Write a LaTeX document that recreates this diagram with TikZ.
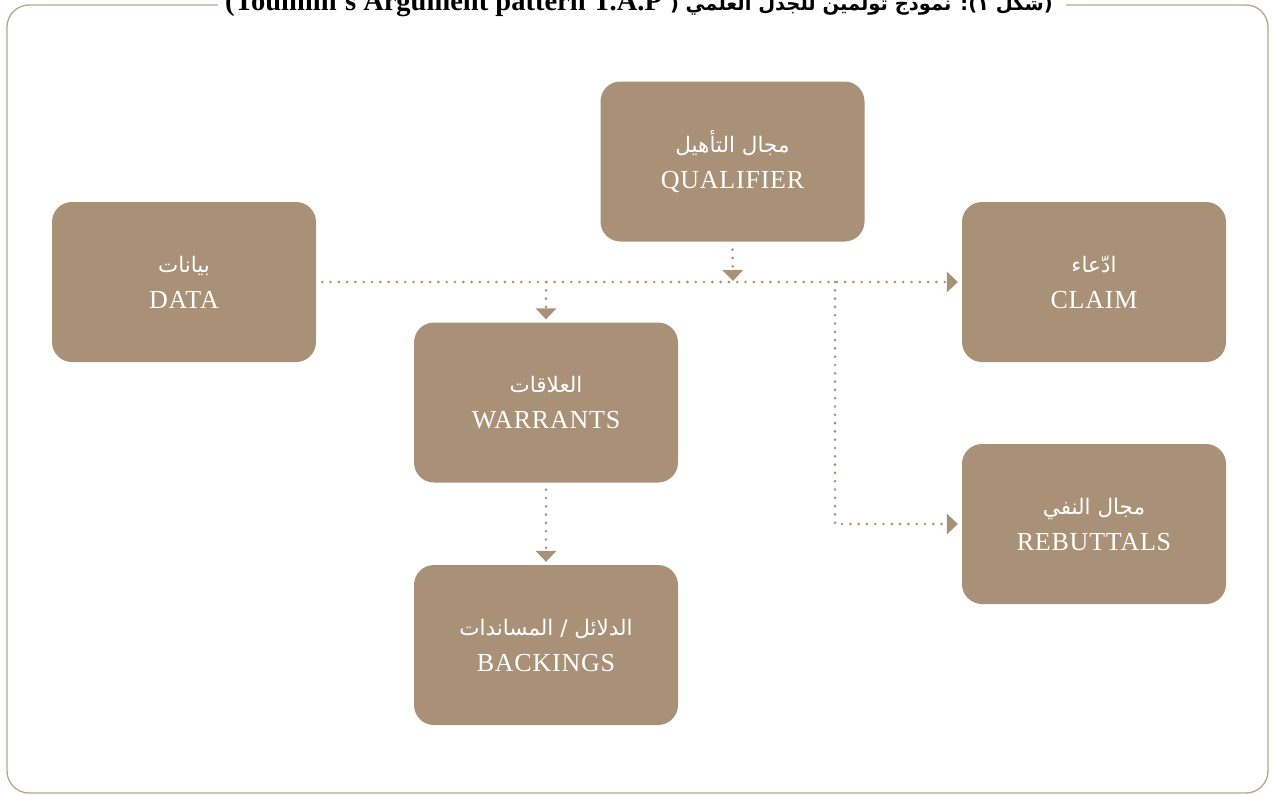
\documentclass[tikz,border=0pt]{standalone}
\usepackage{fontspec}
\setmainfont{Liberation Serif}
\newfontfamily\enfont{Liberation Serif}[LetterSpace=3]
\newfontfamily\arfont[Script=Arabic]{DejaVu Sans}
\TeXXeTstate=1
\usetikzlibrary{arrows.meta}
\definecolor{boxcol}{RGB}{168,145,119}
\definecolor{framecol}{RGB}{184,165,142}
\newcommand{\ar}[1]{{\arfont\fontsize{21.5}{36}\selectfont\beginR #1\endR}}
\begin{document}
\begin{tikzpicture}[x=1pt,y=-1pt,
  box/.style={fill=boxcol, rounded corners=20pt, minimum width=264pt, minimum height=160pt,
    inner sep=0pt, text=white, align=center, font=\enfont\fontsize{26}{36}\selectfont},
  conn/.style={draw=boxcol, line width=2.9pt, line cap=round, dash pattern=on 0pt off 8.3pt,
    -{Triangle[width=21pt,length=11pt,line width=0pt]}},
  titlebox/.style={inner sep=0pt, text=black}]
\useasboundingbox (0,0) rectangle (1272,795);
% frame
\draw[framecol, line width=1.3pt, rounded corners=22pt] (7,5) rectangle (1268,793);
\fill[white] (218,0) rectangle (1066,12);
% title (clipped at top as in the reference)
\node[titlebox, anchor=base west, font=\bfseries\fontsize{28.5}{29}\selectfont] (tl) at (225,10) {(Toulmin's Argument pattern T.A.P};
\node[titlebox, anchor=base east, font=\arfont\bfseries\fontsize{19.5}{22}\selectfont] (ta) at (1053,10) {\beginR(شكل ١): نموذج تولمين للجدل العلمي (\endR};
% boxes
\node[box] (qual)  at (732.5,161.5) {\ar{مجال التأهيل}\\QUALIFIER};
\node[box] (data)  at (184,282)     {\ar{بيانات}\\DATA};
\node[box] (claim) at (1094,282)    {\ar{ادّعاء}\\CLAIM};
\node[box] (warr)  at (546,402.5)   {\ar{العلاقات}\\WARRANTS};
\node[box] (reb)   at (1094,524)    {\ar{مجال النفي}\\REBUTTALS};
\node[box] (back)  at (546,645)     {\ar{الدلائل / المساندات}\\BACKINGS};
% junctions
\coordinate (jq) at (733,281);
\coordinate (jw) at (546,282);
\coordinate (jr) at (835,282);
% connectors
\draw[conn] ([xshift=6pt]data.east) -- ([xshift=-4pt]claim.west);
\draw[conn] ([yshift=-8pt]qual.south) -- (jq);
\draw[conn] (jw) -- ([yshift=3pt]warr.north);
\draw[conn] (jr) |- ([xshift=-4pt]reb.west);
\draw[conn] ([yshift=-7pt]warr.south) -- ([yshift=3pt]back.north);
\end{tikzpicture}
\end{document}
